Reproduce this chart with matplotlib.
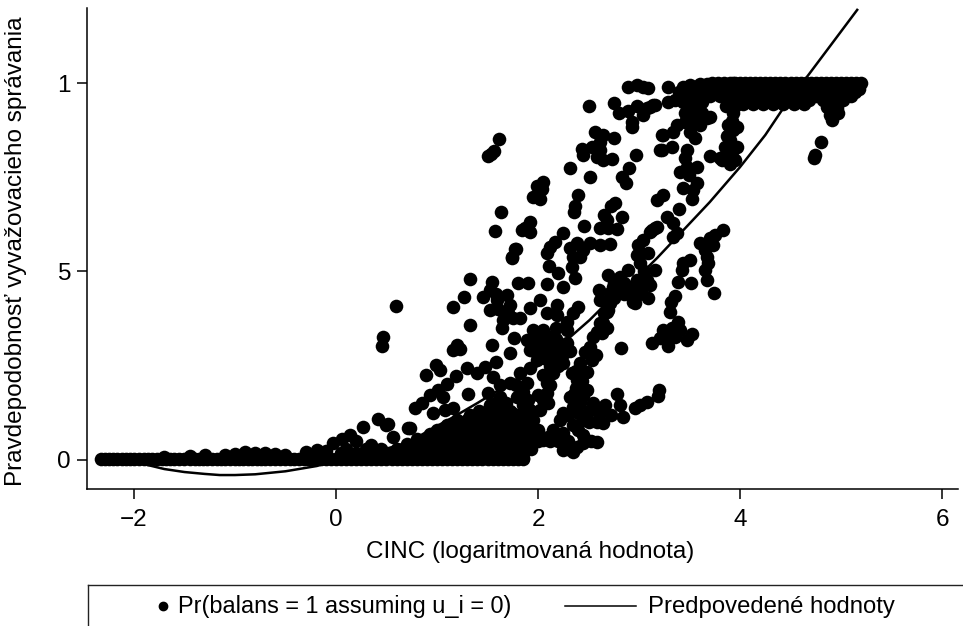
"""
CINC vs. probability of balancing behaviour, scatter with fitted curve.
Values read off the printed chart by eye.
"""

import matplotlib
matplotlib.use('Agg')
import matplotlib.pyplot as plt
from matplotlib.lines import Line2D

plt.rcParams['font.family'] = ['Liberation Sans', 'DejaVu Sans']

x_ticks = [-2, 0, 2, 4, 6]
x_tick_labels = ['\u22122', '0', '2', '4', '6']
y_ticks = [0, 0.5, 1]
y_tick_labels = ['0', '5', '1']  # the dot is missing in the print

curve_x = [-2.0, -1.87, -1.7, -1.5, -1.3, -1.15, -1.0, -0.8, -0.5, -0.19, 0.0, 0.3, 0.5, 0.73,
           0.93, 1.15, 1.4, 1.7, 2.0, 2.25, 2.51, 2.75, 3.04, 3.18, 3.44, 3.7, 4.0, 4.25, 4.43,
           4.69, 4.9, 5.16]
curve_y = [0.0, -0.013, -0.024, -0.032, -0.037, -0.04, -0.04, -0.038, -0.03, -0.016, -0.002,
           0.016, 0.03, 0.048, 0.08, 0.112, 0.151, 0.2, 0.25, 0.31, 0.371, 0.435, 0.499, 0.536,
           0.61, 0.684, 0.777, 0.862, 0.934, 1.026, 1.101, 1.194]

# dense rows: y value, then the x values in that row
base_x = [-2.33, -2.25, -2.17, -2.08, -2.0, -1.9, -1.82, -1.72, -1.64, -1.55, -1.45, -1.36,
          -1.28, -1.18, -1.1, -1.0, -0.92, -0.83, -0.74, -0.65, -0.55, -0.46, -0.37, -0.28,
          -0.2, -0.1, 0.0, 0.1, 0.2, 0.3, 0.4, 0.5, 0.6, 0.7, 0.8, 0.9, 1.0, 1.1, 1.2, 1.3,
          1.4, 1.5, 1.6, 1.7, 1.8, 1.85]
base2_x = [-2.29, -2.21, -2.12, -2.04, -1.95, -1.86, -1.77, -1.68, -1.6, -1.5, -1.4, -1.32,
           -1.23, -1.14, -1.05, -0.96, -0.87, -0.78, -0.7, -0.6, -0.5, -0.42, -0.32, -0.24,
           -0.15, -0.05, 0.05, 0.15, 0.25, 0.35, 0.45, 0.55, 0.65, 0.75, 0.85, 0.95, 1.05,
           1.15, 1.25, 1.35, 1.45, 1.55, 1.65, 1.75]
bump_x = [-1.7, -1.45, -1.3, -1.1, -1.0, -0.9, -0.8, -0.7, -0.6, -0.5, -0.3, -0.1]
bump_y = [0.008, 0.01, 0.012, 0.012, 0.016, 0.02, 0.018, 0.018, 0.016, 0.012, 0.02, 0.025]
row_018_x = [0.05, 0.2, 0.35, 0.5, 0.65, 0.8, 0.95, 1.05, 1.15, 1.25, 1.35, 1.45, 1.55, 1.65,
             1.75, 1.85]
row_03_x = [0.1, 0.3, 0.45, 0.6, 0.75, 0.9, 1.0, 1.1, 1.2, 1.3, 1.4, 1.5, 1.6, 1.7, 1.8]
row_043_x = [0.7, 0.85, 0.95, 1.05, 1.15, 1.25, 1.35, 1.45, 1.55, 1.65, 1.75, 1.85]
row_055_x = [0.8, 0.9, 1.0, 1.1, 1.2, 1.3, 1.4, 1.5, 1.6, 1.7, 1.8]
row_068_x = [0.93, 1.05, 1.15, 1.25, 1.35, 1.45, 1.55, 1.65, 1.75, 1.83]
row_08_x = [1.0, 1.1, 1.2, 1.3, 1.4, 1.5, 1.6, 1.7, 1.78]
row_093_x = [1.1, 1.2, 1.3, 1.45, 1.55, 1.65, 1.75, 1.83]
row_105_x = [1.2, 1.3, 1.4, 1.5, 1.6, 1.7, 1.75]
row_118_x = [1.33, 1.45, 1.55, 1.65, 1.8]
row_13_x = [1.42, 1.52, 1.62, 1.72]

top_100_x = [3.72, 3.78, 3.84, 3.9, 3.95, 4.0, 4.05, 4.1, 4.15, 4.2, 4.25, 4.3, 4.35, 4.4, 4.45,
             4.5, 4.55, 4.6, 4.65, 4.7, 4.75, 4.8, 4.85, 4.9, 4.95, 5.0, 5.05, 5.1, 5.15, 5.2]
top_985_x = [3.7, 3.8, 3.9, 4.0, 4.1, 4.2, 4.3, 4.4, 4.5, 4.6, 4.7, 4.8, 4.9, 5.0, 5.1, 5.18]
top_975_x = [3.65, 3.75, 3.85, 3.98, 4.08, 4.18, 4.28, 4.38, 4.48, 4.58, 4.68, 4.78, 4.95,
             5.05, 5.14]
top_965_x = [3.7, 3.8, 3.95, 4.05, 4.15, 4.25, 4.35, 4.45, 4.55, 4.65, 4.75, 4.9, 5.0, 5.1]
top_955_x = [3.98, 4.08, 4.18, 4.28, 4.38, 4.48, 4.58, 4.68, 4.82, 4.92, 5.02]
top_945_x = [4.03, 4.13, 4.23, 4.33, 4.43, 4.53, 4.63]

# loose points, by region of the plot
low_left = [(-0.19, 0.027), (-0.03, 0.045), (0.14, 0.066), (0.27, 0.088), (0.5, 0.093),
            (0.56, 0.061), (0.73, 0.085), (0.42, 0.109), (0.51, 0.095), (0.71, 0.085),
            (0.78, 0.138), (0.85, 0.151), (0.89, 0.225), (0.99, 0.252), (1.03, 0.24),
            (1.19, 0.223), (1.1, 0.202), (1.31, 0.175), (1.3, 0.244), (1.4, 0.231),
            (1.48, 0.247), (1.58, 0.26), (1.55, 0.22), (0.93, 0.172), (1.01, 0.186),
            (1.06, 0.167), (0.96, 0.125), (1.08, 0.133), (1.16, 0.138), (1.5, 0.178),
            (1.72, 0.204), (1.82, 0.231), (1.89, 0.204), (1.79, 0.167), (1.74, 0.125),
            (1.62, 0.167), (1.62, 0.2), (1.68, 0.15), (1.85, 0.145), (1.85, 0.18),
            (1.78, 0.2), (0.2, 0.05), (0.35, 0.04), (0.06, 0.055), (1.9, 0.16), (1.88, 0.12),
            (1.9, 0.09), (1.93, 0.03), (1.95, 0.065), (1.58, 0.15), (1.52, 0.145)]
lone_mid = [(0.59, 0.408), (0.47, 0.327), (0.46, 0.302), (1.33, 0.48), (1.27, 0.432),
            (1.16, 0.406), (1.33, 0.358), (1.2, 0.305), (1.16, 0.292), (1.23, 0.295),
            (1.54, 0.305), (1.72, 0.284), (1.76, 0.324), (1.54, 0.472), (1.8, 0.47),
            (1.9, 0.47), (2.09, 0.467), (2.25, 0.459), (2.37, 0.483), (2.2, 0.496),
            (2.11, 0.515), (1.74, 0.536), (1.77, 0.56)]
centre_left = [(1.455, 0.432), (1.525, 0.451), (1.594, 0.424), (1.693, 0.438), (1.723, 0.411),
               (1.525, 0.398), (1.653, 0.371), (1.644, 0.35), (1.752, 0.377), (1.82, 0.377),
               (1.92, 0.403), (2.02, 0.424), (2.19, 0.411), (2.19, 0.385), (2.09, 0.39),
               (2.4, 0.406), (2.35, 0.39), (2.29, 0.366), (2.29, 0.345), (1.6, 0.4),
               (1.7, 0.39), (1.58, 0.44)]
centre_blob = [(1.95, 0.345), (2.05, 0.345), (1.89, 0.318), (1.99, 0.318), (2.09, 0.318),
               (1.92, 0.292), (2.02, 0.292), (2.12, 0.3), (1.99, 0.265), (2.09, 0.273),
               (2.22, 0.3), (2.29, 0.31), (2.19, 0.273), (2.25, 0.257), (1.92, 0.244),
               (2.42, 0.257), (2.34, 0.231), (2.49, 0.233), (2.39, 0.212), (2.49, 0.186),
               (2.32, 0.167), (2.42, 0.151), (2.09, 0.204), (2.15, 0.231), (2.0, 0.172),
               (2.09, 0.178), (2.05, 0.159), (1.92, 0.133), (2.02, 0.133), (1.95, 0.106),
               (2.0, 0.08), (2.0, 0.33), (2.05, 0.31), (2.15, 0.33), (1.96, 0.29), (2.06, 0.27),
               (2.12, 0.25), (2.18, 0.32), (2.38, 0.235), (2.44, 0.21), (2.36, 0.175),
               (2.45, 0.17), (2.38, 0.19), (2.1, 0.15), (2.15, 0.285), (2.25, 0.28),
               (2.32, 0.29), (2.2, 0.25), (2.12, 0.2), (2.05, 0.225), (2.18, 0.35)]
low_right = [(2.78, 0.175), (2.82, 0.297), (2.54, 0.151), (2.66, 0.146), (2.81, 0.146),
             (2.84, 0.114), (2.64, 0.098), (2.58, 0.101), (2.45, 0.106), (2.25, 0.125),
             (2.35, 0.141), (2.22, 0.106), (2.35, 0.093), (2.96, 0.138), (3.01, 0.146),
             (3.08, 0.154), (3.2, 0.186), (3.19, 0.17), (2.45, 0.066), (2.58, 0.048),
             (2.25, 0.027), (2.35, 0.021), (2.39, 0.034), (2.15, 0.08), (2.05, 0.053),
             (1.92, 0.053), (1.85, 0.045), (2.25, 0.072), (1.85, 0.005), (2.3, 0.12),
             (2.4, 0.125), (2.5, 0.13), (2.6, 0.125), (2.72, 0.12), (2.5, 0.1), (2.3, 0.05),
             (2.45, 0.045), (2.52, 0.05), (2.3, 0.03), (2.1, 0.06), (2.0, 0.05), (2.2, 0.05),
             (2.12, 0.05), (2.4, 0.08)]
upper_left = [(1.61, 0.851), (1.56, 0.82), (1.5, 0.806), (1.53, 0.813), (2.5, 0.939),
              (2.75, 0.947), (2.8, 0.92), (2.89, 0.926), (2.98, 0.939), (3.04, 0.915),
              (3.11, 0.936), (3.16, 0.942), (2.93, 0.897), (2.93, 0.883), (2.89, 0.989),
              (2.98, 0.995), (3.04, 0.989), (3.09, 0.987), (2.56, 0.87), (2.64, 0.862),
              (2.75, 0.854), (2.61, 0.844), (2.53, 0.83), (2.44, 0.825), (2.45, 0.809),
              (2.61, 0.822), (2.58, 0.804), (2.64, 0.796), (2.73, 0.798), (2.97, 0.809),
              (3.21, 0.822), (3.23, 0.862), (2.9, 0.775), (2.83, 0.751), (2.87, 0.735),
              (2.32, 0.775), (2.51, 0.751), (2.05, 0.737), (1.99, 0.727), (2.04, 0.719),
              (1.95, 0.698), (2.02, 0.692), (2.4, 0.703), (2.37, 0.674), (2.36, 0.658)]
upper_mid = [(2.76, 0.682), (2.72, 0.674), (2.65, 0.65), (2.83, 0.645), (2.46, 0.621),
             (2.61, 0.615), (2.69, 0.615), (2.78, 0.613), (2.68, 0.637), (3.18, 0.69),
             (3.13, 0.61), (3.18, 0.618), (1.63, 0.658), (1.57, 0.607), (1.92, 0.631),
             (1.87, 0.615), (1.92, 0.605), (1.84, 0.61), (2.25, 0.602), (2.17, 0.578),
             (2.12, 0.565), (2.09, 0.549), (1.78, 0.56), (1.74, 0.538), (2.39, 0.576),
             (2.32, 0.562), (2.45, 0.557), (2.35, 0.538), (2.42, 0.538), (2.51, 0.576),
             (2.61, 0.57), (2.71, 0.573), (3.04, 0.584), (2.99, 0.57), (3.01, 0.549),
             (2.98, 0.544), (3.09, 0.549), (3.01, 0.523), (2.34, 0.512)]
column_35 = [(3.29, 0.989), (3.29, 0.95), (3.36, 0.955), (3.14, 0.942), (3.08, 0.934),
             (3.44, 0.989), (3.5, 0.995), (3.6, 0.997), (3.67, 0.997), (3.49, 0.963),
             (3.57, 0.973), (3.63, 0.976), (3.52, 0.936), (3.57, 0.928), (3.46, 0.92),
             (3.67, 0.907), (3.7, 0.91), (3.38, 0.889), (3.46, 0.897), (3.53, 0.894),
             (3.6, 0.889), (3.34, 0.87), (3.24, 0.862), (3.5, 0.87), (3.55, 0.854),
             (3.33, 0.83), (3.23, 0.822), (3.48, 0.822), (3.46, 0.801), (3.48, 0.777),
             (3.57, 0.777), (3.41, 0.764), (3.49, 0.756), (3.57, 0.735), (3.44, 0.721),
             (3.53, 0.716), (3.52, 0.692), (3.7, 0.806), (3.4, 0.666), (3.24, 0.703),
             (3.28, 0.645), (3.34, 0.629), (3.38, 0.602), (3.34, 0.592), (3.16, 0.615),
             (3.11, 0.605), (3.5, 0.95), (3.56, 0.95), (3.62, 0.95), (3.85, 0.965),
             (3.55, 0.91), (3.62, 0.92), (3.44, 0.95), (3.4, 0.975), (3.55, 0.99)]
column_39 = [(3.93, 1.0), (3.9, 0.955), (3.93, 0.92), (3.88, 0.889), (3.93, 0.875),
             (3.97, 0.883), (3.9, 0.849), (3.93, 0.822), (3.85, 0.83), (3.97, 0.83),
             (3.87, 0.801), (3.95, 0.796), (3.82, 0.796), (3.9, 0.785), (3.8, 0.801),
             (3.86, 0.94), (3.95, 0.94), (3.87, 0.86), (3.92, 0.9), (3.88, 0.81)]
far_right = [(4.86, 0.936), (4.96, 0.934), (4.89, 0.915), (4.97, 0.92), (4.91, 0.902),
             (4.8, 0.843), (4.74, 0.809), (4.73, 0.801), (4.9, 0.95), (4.85, 0.95)]
right_mid = [(3.83, 0.61), (3.75, 0.597), (3.7, 0.589), (3.73, 0.57), (3.6, 0.576),
             (3.65, 0.557), (3.67, 0.538), (3.68, 0.523), (3.65, 0.504), (3.67, 0.477),
             (3.74, 0.443), (3.5, 0.531), (3.44, 0.523), (3.43, 0.504), (3.39, 0.472),
             (3.51, 0.47), (3.36, 0.435), (3.32, 0.419), (3.31, 0.393), (3.39, 0.366),
             (3.24, 0.345), (3.33, 0.35), (3.41, 0.345), (3.28, 0.326), (3.36, 0.326),
             (3.21, 0.324), (3.52, 0.334), (3.48, 0.318), (3.13, 0.31), (3.29, 0.302)]
middle_band = [(2.69, 0.491), (2.81, 0.485), (2.89, 0.504), (2.98, 0.477), (3.08, 0.477),
               (3.16, 0.504), (3.11, 0.464), (3.03, 0.456), (2.89, 0.459), (2.81, 0.451),
               (2.71, 0.443), (2.93, 0.432), (2.96, 0.416), (3.09, 0.43), (2.68, 0.416),
               (2.69, 0.398), (2.64, 0.363), (2.68, 0.35), (2.63, 0.337), (2.6, 0.451),
               (2.74, 0.459), (2.94, 0.419), (2.61, 0.424), (2.71, 0.416), (2.68, 0.393),
               (2.61, 0.363), (2.54, 0.326), (2.51, 0.3), (2.47, 0.286), (2.57, 0.279),
               (2.53, 0.265), (2.75, 0.47), (2.85, 0.47), (2.95, 0.46), (3.05, 0.5),
               (2.75, 0.43), (2.85, 0.44), (3.0, 0.44), (2.65, 0.39), (2.58, 0.34)]


def collect_points():
    """Flatten the rows and the loose point lists into x and y lists."""
    xs, ys = [], []
    rows = [(base_x, 0.003), (base2_x, 0.003), (row_018_x, 0.018), (row_03_x, 0.03),
            (row_043_x, 0.043), (row_055_x, 0.055), (row_068_x, 0.068), (row_08_x, 0.08),
            (row_093_x, 0.093), (row_105_x, 0.105), (row_118_x, 0.118), (row_13_x, 0.13),
            (top_100_x, 1.0), (top_985_x, 0.985), (top_975_x, 0.975), (top_965_x, 0.965),
            (top_955_x, 0.955), (top_945_x, 0.945)]
    for row_x, row_y in rows:
        xs.extend(row_x)
        ys.extend([row_y] * len(row_x))
    xs.extend(bump_x)
    ys.extend(bump_y)
    groups = [low_left, lone_mid, centre_left, centre_blob, low_right, upper_left, upper_mid,
              column_35, column_39, far_right, right_mid, middle_band]
    for group in groups:
        xs.extend(p[0] for p in group)
        ys.extend(p[1] for p in group)
    return xs, ys


W, H = 963, 626
fig = plt.figure(figsize=(W / 100, H / 100), dpi=100)
ax = fig.add_axes([87 / W, 1 - 489 / H, (958 - 87) / W, (489 - 8) / H])

points_x, points_y = collect_points()
ax.scatter(points_x, points_y, s=96, color='black', linewidths=0, clip_on=False, zorder=2)
ax.plot(curve_x, curve_y, color='black', lw=1.8, zorder=3)

ax.set_xlim(-2.465, 6.158)
ax.set_ylim(-0.077, 1.199)
ax.set_xticks(x_ticks, x_tick_labels)
ax.set_yticks(y_ticks, y_tick_labels)
ax.tick_params(axis='both', length=7.5, width=1.1, labelsize=17.5, color='black')
ax.tick_params(axis='x', pad=7)
ax.tick_params(axis='y', pad=4)
ax.spines['top'].set_visible(False)
ax.spines['right'].set_visible(False)
ax.spines['left'].set_linewidth(1.1)
ax.spines['bottom'].set_linewidth(1.1)

fig.text(530 / W, 1 - 552 / H, 'CINC (logaritmovaná hodnota)', fontsize=17.5,
         ha='center', va='center')
fig.text(16 / W, 1 - 251 / H, 'Pravdepodobnosť vyvažovacieho správania', fontsize=17.5,
         rotation=90, ha='center', va='center')

# legend box runs off the right and bottom of the page
box_x = [88 / W, 88 / W]
box_y = [0, 1 - 585 / H]
fig.add_artist(Line2D(box_x, box_y, color='#222222', lw=1.0))
fig.add_artist(Line2D([88 / W, 1], [1 - 585 / H, 1 - 585 / H], color='#222222', lw=1.0))
fig.add_artist(Line2D([163 / W], [1 - 606 / H], marker='o', ms=6, color='black', lw=0))
fig.text(178 / W, 1 - 607 / H, 'Pr(balans = 1 assuming u_i = 0)', fontsize=16.9, va='center')
fig.add_artist(Line2D([565 / W, 636 / W], [1 - 606 / H, 1 - 606 / H], color='black', lw=1.1))
fig.text(648 / W, 1 - 607 / H, 'Predpovedené hodnoty', fontsize=17.2, va='center')

fig.savefig('out.png', dpi=100)
